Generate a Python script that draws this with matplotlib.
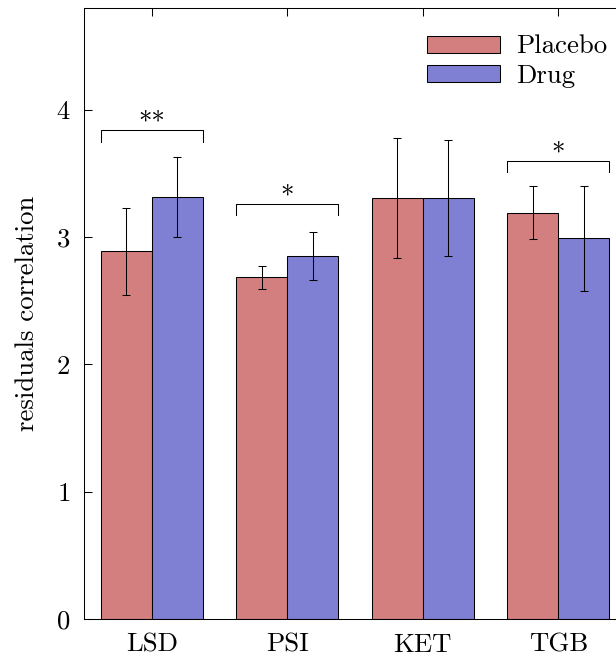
import matplotlib
matplotlib.use("Agg")
import matplotlib.pyplot as plt
import numpy as np

categories = ["LSD", "PSI", "KET", "TGB"]
placebo = [2.89, 2.684, 3.305, 3.192]
placebo_lo = [2.549, 2.59, 2.838, 2.987]
placebo_hi = [3.23, 2.775, 3.776, 3.40]
drug = [3.316, 2.854, 3.307, 2.993]
drug_lo = [3.004, 2.663, 2.851, 2.577]
drug_hi = [3.63, 3.037, 3.765, 3.404]
sig_groups = [0, 1, 3]
sig_labels = ["**", "*", "*"]
sig_y = [3.84, 3.26, 3.60]
yticks = [0, 1, 2, 3, 4]

plt.rcParams['font.family'] = ['cmr10', 'DejaVu Serif']
plt.rcParams['axes.formatter.use_mathtext'] = True
plt.rcParams['font.size'] = 19.3

W, H = 616, 657
fig = plt.figure(figsize=(W / 100, H / 100), dpi=100)
left, right, bottom, top = 84, 626, 619, 8
ax = fig.add_axes([left / W, (H - bottom) / H, (right - left) / W, (bottom - top) / H])

x = np.arange(len(categories))
bw = 0.377
pc = "#D47F7F"
dc = "#7F7FD4"
ax.bar(x - bw / 2, placebo, bw, color=pc, edgecolor="black", linewidth=0.75, label="Placebo", zorder=2)
ax.bar(x + bw / 2, drug, bw, color=dc, edgecolor="black", linewidth=0.75, label="Drug", zorder=2)

p = np.array(placebo); d = np.array(drug)
perr = [p - np.array(placebo_lo), np.array(placebo_hi) - p]
derr = [d - np.array(drug_lo), np.array(drug_hi) - d]
ax.errorbar(x - bw / 2, p, yerr=perr, fmt="none", ecolor="black", elinewidth=0.75, capsize=3, capthick=0.75, zorder=3)
ax.errorbar(x + bw / 2, d, yerr=derr, fmt="none", ecolor="black", elinewidth=0.75, capsize=3, capthick=0.75, zorder=3)

drop = 0.09
for g, lab, yy in zip(sig_groups, sig_labels, sig_y):
    x0, x1 = g - bw, g + bw
    ax.plot([x0, x0, x1, x1], [yy - drop, yy, yy, yy - drop], color="black", linewidth=0.75, zorder=3)
    ax.text(g, yy - 0.035, lab, ha="center", va="bottom")

ax.set_xlim(-0.5, 3.5)
ax.set_ylim(0, 4.8)
ax.set_xticks(x)
ax.set_xticklabels(categories)
ax.set_yticks(yticks)
ax.tick_params(axis="both", direction="in", length=6, width=0.75, top=True, right=True)
ax.tick_params(axis="x", pad=10)
ax.tick_params(axis="y", pad=10)
for s in ax.spines.values():
    s.set_linewidth(0.75)
ax.set_ylabel("residuals correlation", labelpad=12)

ax.legend(loc="upper left", bbox_to_anchor=(408 / W, 1 - 16 / H), bbox_transform=fig.transFigure,
          frameon=False, handlelength=2.75, handleheight=0.6, labelspacing=0.2, handletextpad=0.6,
          borderpad=0.2)

fig.savefig("out.png", dpi=100)
